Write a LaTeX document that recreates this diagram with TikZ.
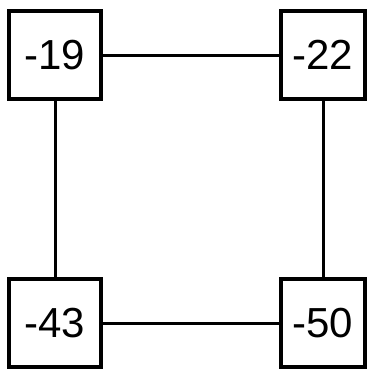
\documentclass[tikz,border=0pt]{standalone}
\usepackage{fontspec}
\setmainfont{Liberation Sans}
\usetikzlibrary{positioning}

\begin{document}
\begin{tikzpicture}[
    x=1pt, y=1pt,
    numbox/.style={rectangle, draw, line width=3.2pt, minimum width=92pt, minimum height=88pt, inner sep=0pt, font=\fontsize{42}{42}\selectfont},
    link/.style={line width=3pt}
]
    \useasboundingbox (0,0) rectangle (368,-370);
    % Boxes
    \node[numbox] (nw) at (55,-55) {-19};
    \node[numbox, minimum width=84pt] (ne) at (323,-55) {-22};
    \node[numbox] (sw) at (55,-323) {-43};
    \node[numbox, minimum width=84pt] (se) at (323,-323) {-50};

    % Links
    \draw[link] (nw) -- (ne);
    \draw[link] (sw) -- (se);
    \draw[link] (nw) -- (sw);
    \draw[link] (ne) -- (se);
\end{tikzpicture}
\end{document}
